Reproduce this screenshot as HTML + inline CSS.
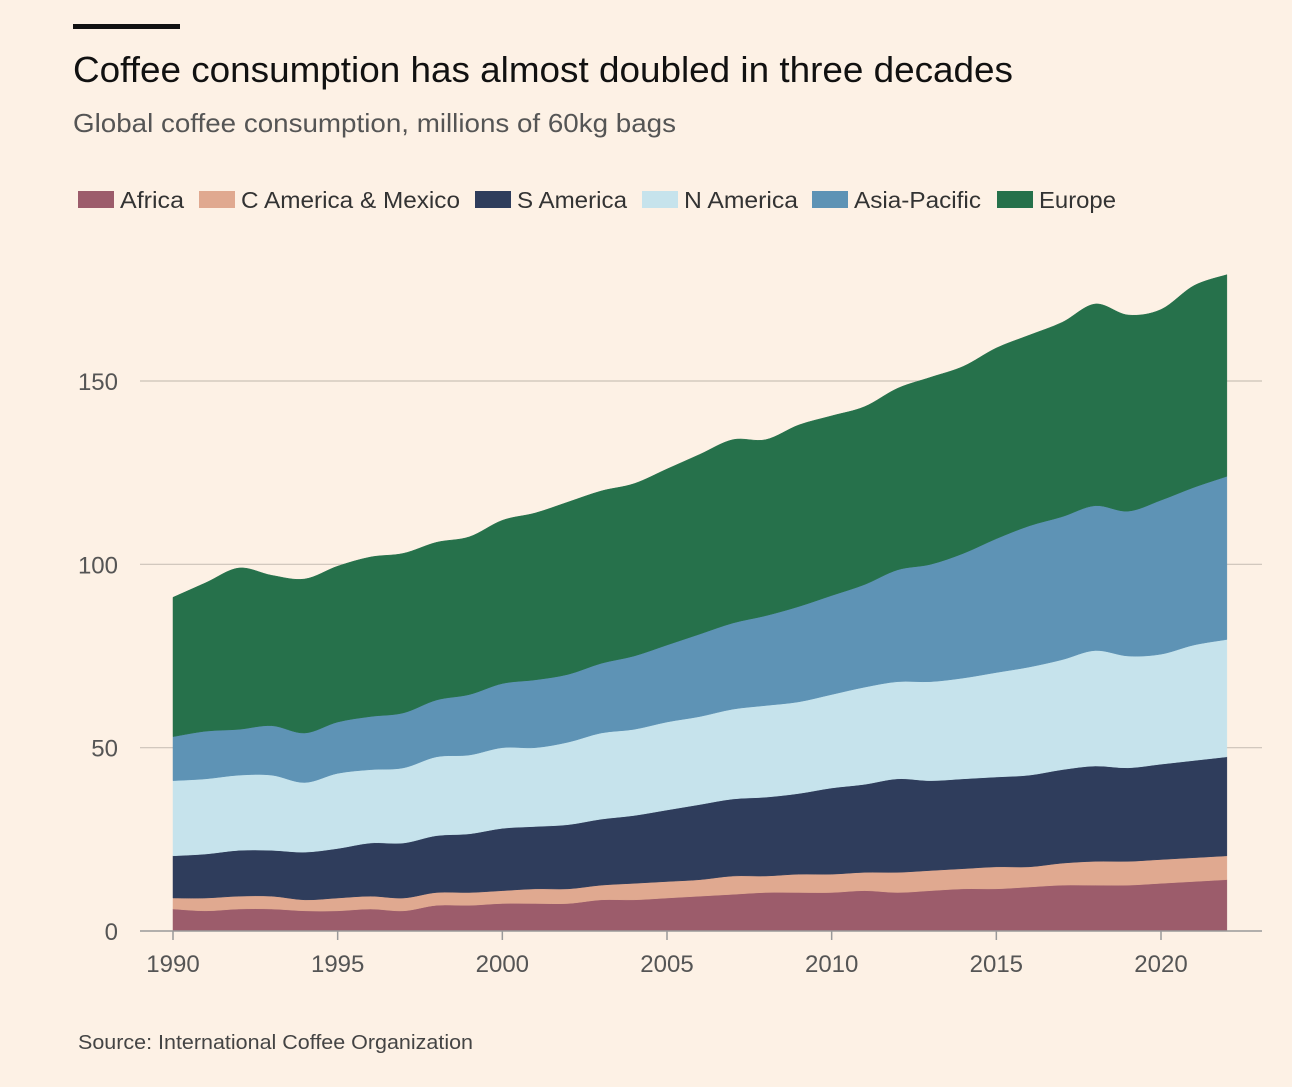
<!DOCTYPE html>
<html><head><meta charset="utf-8"><style>
body{margin:0;background:#fdf1e5;width:1292px;height:1082px;overflow:hidden;font-family:"Liberation Sans",sans-serif;}
</style></head><body>
<svg width="1292" height="1082">
<rect x="0" y="0" width="1292" height="1082" fill="#fdf1e5"/>
<rect x="73" y="24" width="107" height="5" fill="#111"/>
<text x="73" y="82" font-size="36" fill="#111" textLength="940" lengthAdjust="spacingAndGlyphs">Coffee consumption has almost doubled in three decades</text>
<text x="73" y="132" font-size="26" fill="#555" textLength="603" lengthAdjust="spacingAndGlyphs">Global coffee consumption, millions of 60kg bags</text>
<g id="legend"></g>
<g id="grid"></g>
<g id="areas"></g>
<g id="axes"></g>
<text x="78" y="1049" font-size="20" fill="#444" textLength="395" lengthAdjust="spacingAndGlyphs">Source: International Coffee Organization</text>
</svg>
<script>
const years = [1990,1991,1992,1993,1994,1995,1996,1997,1998,1999,2000,2001,2002,2003,2004,2005,2006,2007,2008,2009,2010,2011,2012,2013,2014,2015,2016,2017,2018,2019,2020,2021,2022];
const seriesNames = ["Africa","C America & Mexico","S America","N America","Asia-Pacific","Europe"];
const seriesColors = ["#9c5c6b","#e0a990","#2f3d5c","#c6e3ec","#5e93b5","#26714b"];
// stacked tops (cumulative) per series
const africaTop = [6,5.5,6,6,5.5,5.5,6,5.5,7,7,7.5,7.5,7.5,8.5,8.5,9,9.5,10,10.5,10.5,10.5,11,10.5,11,11.5,11.5,12,12.5,12.5,12.5,13,13.5,14];
const cAmericaTop = [9,9,9.5,9.5,8.5,9,9.5,9,10.5,10.5,11,11.5,11.5,12.5,13,13.5,14,15,15,15.5,15.5,16,16,16.5,17,17.5,17.5,18.5,19,19,19.5,20,20.5];
const sAmericaTop = [20.5,21,22,22,21.5,22.5,24,24,26,26.5,28,28.5,29,30.5,31.5,33,34.5,36,36.5,37.5,39,40,41.5,41,41.5,42,42.5,44,45,44.5,45.5,46.5,47.5];
const nAmericaTop = [41,41.5,42.5,42.5,40.5,43,44,44.5,47.5,48,50,50,51.5,54,55,57,58.5,60.5,61.5,62.5,64.5,66.5,68,68,69,70.5,72,74,76.5,75,75.5,78,79.5];
const asiaTop = [53,54.5,55,56,54,57,58.5,59.5,63,64.5,67.5,68.5,70,73,75,78,81,84,86,88.5,91.5,94.5,98.5,100,103,107,110.5,113,116,114.5,117.5,121,124];
const europeTop = [91,95,99,97,96,99.5,102,103,106,107.5,112,114,117,120,122,126,130,134,134,138,140.5,143,148,151,154,159,162.5,166,171,168,169.5,176,179];
const yTicks = [0,50,100,150];
const xTicks = [1990,1995,2000,2005,2010,2015,2020];

const NS="http://www.w3.org/2000/svg";
const X = yr => 173 + (yr-1990)*(1161-173)/30;
const Y = v => 931 - v*(931-381)/150;
function mk(tag, attrs, parent){const e=document.createElementNS(NS,tag);for(const k in attrs)e.setAttribute(k,attrs[k]);parent.appendChild(e);return e;}

function spline(pts){
  let d="";
  for(let i=0;i<pts.length-1;i++){
    const p0=pts[Math.max(i-1,0)],p1=pts[i],p2=pts[i+1],p3=pts[Math.min(i+2,pts.length-1)];
    const t=0.5/3;
    const c1=[p1[0]+(p2[0]-p0[0])*t,p1[1]+(p2[1]-p0[1])*t];
    const c2=[p2[0]-(p3[0]-p1[0])*t,p2[1]-(p3[1]-p1[1])*t];
    d+=` C${c1[0]},${c1[1]} ${c2[0]},${c2[1]} ${p2[0]},${p2[1]}`;
  }
  return d;
}

const grid=document.getElementById('grid');
yTicks.forEach(t=>{
  if(t>0){
    const l=mk('line',{x1:140,x2:1262,y1:Y(t),y2:Y(t),stroke:'#ccc2b8','stroke-width':1.2},grid);
    
    
  }
  const tx=mk('text',{x:118,y:Y(t)+9,'font-size':24,fill:'#555','text-anchor':'end'},grid);
  tx.textContent=t;
  
  
});

const tops=[africaTop,cAmericaTop,sAmericaTop,nAmericaTop,asiaTop,europeTop];
const areas=document.getElementById('areas');
tops.forEach((top,si)=>{
  const bottom = si===0 ? years.map(()=>0) : tops[si-1];
  const up=years.map((yr,i)=>[X(yr),Y(top[i])]);
  const dn=years.map((yr,i)=>[X(yr),Y(bottom[i])]).reverse();
  let d=`M${up[0][0]},${up[0][1]}`+spline(up)+` L${dn[0][0]},${dn[0][1]}`+spline(dn)+'Z';
  const p=mk('path',{d:d,fill:seriesColors[si],stroke:seriesColors[si],'stroke-width':0.5},areas);
  
  
});

const axes=document.getElementById('axes');
const ax=mk('line',{x1:140,x2:1262,y1:931,y2:931,stroke:'#999','stroke-width':1.5},axes);


xTicks.forEach(t=>{
  const l=mk('line',{x1:X(t),x2:X(t),y1:931,y2:940,stroke:'#999','stroke-width':1.5},axes);
  
  
  const tx=mk('text',{x:X(t),y:972,'font-size':24,fill:'#555','text-anchor':'middle'},axes);
  tx.textContent=t;
  
  
});

const legend=document.getElementById('legend');
const legX=[78,199,475,642,812,997];
const legW=[64,219,110,114,127,77];
seriesNames.forEach((n,i)=>{
  const r=mk('rect',{x:legX[i],y:191,width:36,height:17,fill:seriesColors[i]},legend);
  
  
  const tx=mk('text',{x:legX[i]+42,y:208,'font-size':23,fill:'#333',textLength:legW[i],lengthAdjust:'spacingAndGlyphs'},legend);
  tx.textContent=n;
  
  
});
</script>
</body></html>
